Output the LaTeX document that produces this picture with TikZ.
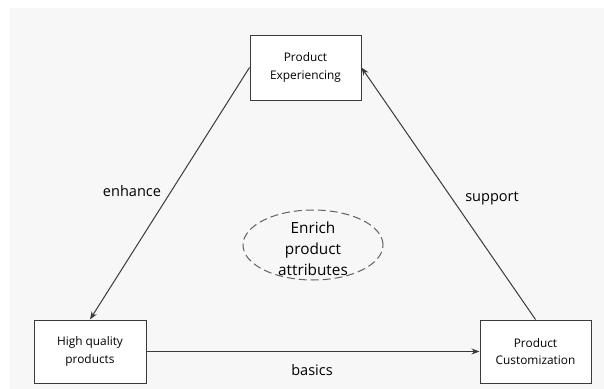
\documentclass[tikz,border=0pt]{standalone}
\usepackage{fontspec}
\setmainfont{Open Sans}
\usetikzlibrary{arrows.meta,shapes.geometric}
\definecolor{canvas}{HTML}{F7F7F7}
\definecolor{ink}{HTML}{3A3A3A}
\tikzset{
  box/.style={draw=ink, line width=0.75pt, fill=white, inner sep=0pt,
    align=center, font=\fontsize{8.9}{13.3}\selectfont},
  link/.style={draw=ink, line width=0.75pt, -{Stealth[length=6pt,width=4.5pt]}},
  tag/.style={font=\fontsize{10.9}{13}\selectfont, text=black},
}
\begin{document}
\begin{tikzpicture}[x=0.75pt,y=-0.75pt]
  \useasboundingbox (0,0) rectangle (604,389);
  \fill[canvas] (10,8) rectangle (604,389);

  % the three stages
  \node[box, minimum width=83.25pt, minimum height=48.75pt] (exp) at (305.5,67.5)
    {Product\\Experiencing};
  \node[box, minimum width=84pt, minimum height=47.25pt] (hq) at (90,351.5)
    {High quality\\products};
  \node[box, minimum width=83.25pt, minimum height=47.25pt] (cust) at (535.5,351.5)
    {Product\\Customization};

  % central idea
  \node[ellipse, draw=ink!80, line width=0.75pt, dash pattern=on 6pt off 3pt,
    minimum width=105pt, minimum height=52.5pt, inner sep=0pt] (core) at (313,245) {};
  \node[align=center, font=\fontsize{11.5}{15.8}\selectfont, inner sep=0pt]
    (coretext) at (313,249) {Enrich\\product\\attributes};

  % relations
  \draw[link] (exp.west) -- (hq.north);
  \draw[link] (cust.north) -- (exp.east);
  \draw[link] (hq.east) -- (cust.west);

  \node[tag] (enh) at (132,191) {enhance};
  \node[tag] (sup) at (492,198) {support};
  \node[tag] (bas) at (312,370) {basics};
\end{tikzpicture}
\end{document}
